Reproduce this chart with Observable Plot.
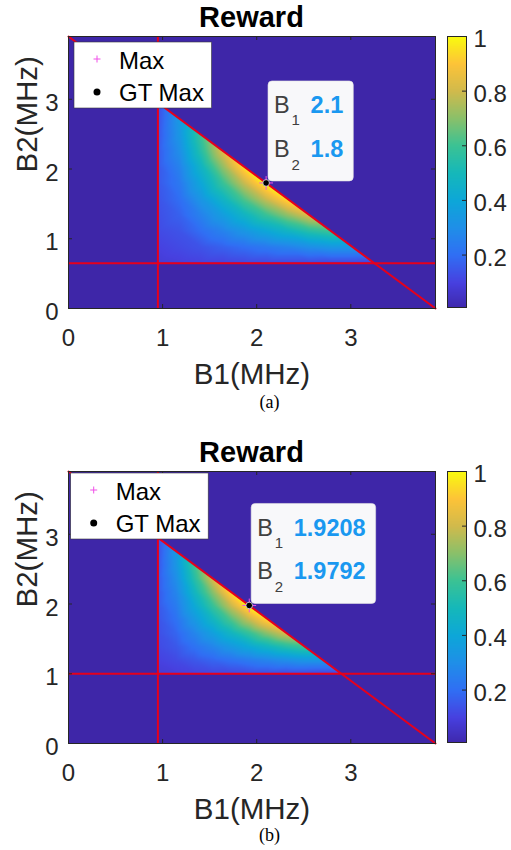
<!DOCTYPE html>
<html><head><meta charset="utf-8">
<script src="https://cdn.jsdelivr.net/npm/d3@7"></script>
<script src="https://cdn.jsdelivr.net/npm/@observablehq/plot@0.6"></script>
<style>
body{margin:0;background:#fff;}
#page{position:relative;width:511px;height:850px;overflow:hidden;font-family:"Liberation Sans",Arial,Helvetica,sans-serif;}
#page svg{position:absolute;}
</style></head><body><div id="page"></div>
<script>
// ---------------- data ----------------
const sumLimit = 3.9;                 // B1 + B2 constraint (diagonal)
const b1Min = [0.95, 0.95];           // vertical constraint line, panels a / b
const b2Min = [0.65, 1.0];            // horizontal constraint line, panels a / b
const gtMaxB1 = [2.1, 1.9208];
const gtMaxB2 = [1.8, 1.9792];
const estMaxB1 = [2.1, 1.9208];
const estMaxB2 = [1.8, 1.9792];
const xTicks = [0, 1, 2, 3];
const yTicks = [0, 1, 2, 3];
const cbTicks = [0.2, 0.4, 0.6, 0.8, 1];
const cbDomain = [0.008, 1];
const captions = ["(a)", "(b)"];
const legendLabels = ["Max", "GT Max"];

// sampled reward values (rows: B2 grid index, columns: B1 grid index)
const b1GridA = [0.95, 1.18, 1.41, 1.64, 1.87, 2.10, 2.33, 2.56, 2.79, 3.02, 3.25];
const b2GridA = [0.65, 0.88, 1.11, 1.34, 1.57, 1.80, 2.03, 2.26, 2.49, 2.72, 2.95];
const rewardA = [
  [0.08, 0.09, 0.10, 0.10, 0.11, 0.11, 0.11, 0.11, 0.10, 0.10, 0.09],
  [0.10, 0.12, 0.14, 0.17, 0.20, 0.23, 0.26, 0.30, 0.33, 0.33],
  [0.12, 0.14, 0.20, 0.26, 0.33, 0.40, 0.47, 0.55, 0.60],
  [0.13, 0.17, 0.26, 0.36, 0.47, 0.59, 0.71, 0.83],
  [0.14, 0.20, 0.33, 0.47, 0.63, 0.79, 0.96],
  [0.15, 0.23, 0.40, 0.59, 0.79, 1.00],
  [0.15, 0.26, 0.47, 0.71, 0.96],
  [0.15, 0.30, 0.55, 0.83],
  [0.14, 0.33, 0.60],
  [0.13, 0.34],
  [0.12]
];
const b1GridB = [0.95, 1.145, 1.34, 1.535, 1.73, 1.925, 2.12, 2.315, 2.51, 2.705, 2.90];
const b2GridB = [1.00, 1.195, 1.39, 1.585, 1.78, 1.975, 2.17, 2.365, 2.56, 2.755, 2.95];
const rewardB = [
  [0.08, 0.09, 0.10, 0.11, 0.11, 0.12, 0.12, 0.11, 0.11, 0.10, 0.10],
  [0.10, 0.12, 0.15, 0.18, 0.21, 0.24, 0.27, 0.30, 0.33, 0.33],
  [0.12, 0.15, 0.21, 0.27, 0.34, 0.41, 0.48, 0.55, 0.60],
  [0.13, 0.18, 0.27, 0.37, 0.48, 0.59, 0.71, 0.82],
  [0.14, 0.21, 0.34, 0.48, 0.63, 0.79, 0.95],
  [0.15, 0.24, 0.41, 0.59, 0.79, 1.00],
  [0.15, 0.27, 0.48, 0.70, 0.95],
  [0.15, 0.30, 0.55, 0.82],
  [0.14, 0.33, 0.60],
  [0.13, 0.34],
  [0.12]
];

// ---------------- styles ----------------
const FONT = '"Liberation Sans", Arial, Helvetica, sans-serif';
const parulaStops = [0, 0.1, 0.2, 0.3, 0.4, 0.5, 0.6, 0.7, 0.8, 0.9, 1];
const parulaColors = ["#3e26a8", "#4741e0", "#306ff4", "#1f8fe8", "#0da7d8", "#15b8ba",
                      "#3bc294", "#8ac06a", "#d1ba4c", "#fdc338", "#f9fb0e"];
const RED = "#e6001c";
const AX = "#262626";
const BG = parulaColors[0];
const colorScale = {type: "linear", domain: parulaStops, range: parulaColors, clamp: true};

const panelTop = [0, 435];
const legendPos = [[74, 42], [70.7, 38]];
const M = {left: 68, right: 5, top: 36, bottom: 92, width: 440, height: 400};
const FW = M.width - M.left - M.right, FH = M.height - M.top - M.bottom;

const page = document.getElementById("page");
const grids = [[b1GridA, b2GridA, rewardA], [b1GridB, b2GridB, rewardB]];

const overlay = d3.create("svg").attr("width", 511).attr("height", 850)
  .style("left", "0px").style("top", "0px").style("pointer-events", "none")
  .attr("font-family", FONT);

const tips = [];
for (let k = 0; k < 2; k++) {
  const [g1, g2, rows] = grids[k];
  const pts = [];
  rows.forEach((row, j) => row.forEach((v, i) => pts.push({b1: g1[i], b2: g2[j], v})));
  const diag = [{b1: 0, b2: sumLimit}, {b1: sumLimit, b2: 0}];
  const top = panelTop[k];

  const main = Plot.plot({
    width: M.width, height: M.height,
    marginLeft: M.left, marginRight: M.right, marginTop: M.top, marginBottom: M.bottom,
    x: {domain: [0, sumLimit], axis: null},
    y: {domain: [0, sumLimit], axis: null},
    color: colorScale,
    style: {fontFamily: FONT, color: AX, background: "transparent", overflow: "visible"},
    marks: [
      Plot.raster(pts, {x: "b1", y: "b2", fill: "v", interpolate: "barycentric",
        x1: 0, x2: sumLimit, y1: 0, y2: sumLimit}),
      Plot.rect([{a: 0, b: b1Min[k], c: 0, d: sumLimit}], {x1: "a", x2: "b", y1: "c", y2: "d", fill: BG}),
      Plot.rect([{a: 0, b: sumLimit, c: 0, d: b2Min[k]}], {x1: "a", x2: "b", y1: "c", y2: "d", fill: BG}),
      Plot.areaY(diag, {x: "b1", y1: "b2", y2: () => sumLimit, fill: BG}),
      Plot.ruleX([b1Min[k]], {stroke: RED, strokeWidth: 2}),
      Plot.ruleY([b2Min[k]], {stroke: RED, strokeWidth: 2}),
      Plot.line(diag, {x: "b1", y: "b2", stroke: RED, strokeWidth: 2}),
      Plot.ruleX(xTicks, {insetTop: FH - 4, stroke: AX}),
      Plot.ruleX(xTicks, {insetBottom: FH - 4, stroke: AX}),
      Plot.ruleY(yTicks, {insetRight: FW - 4, stroke: AX}),
      Plot.ruleY(yTicks, {insetLeft: FW - 4, stroke: AX}),
      Plot.frame({stroke: AX, strokeWidth: 1}),
      Plot.dot([{b1: estMaxB1[k], b2: estMaxB2[k]}], {x: "b1", y: "b2", symbol: "plus", r: 4.5, stroke: "#f050e8", strokeWidth: 1}),
      Plot.dot([{b1: gtMaxB1[k], b2: gtMaxB2[k]}], {x: "b1", y: "b2", r: 3.3, fill: "#000", stroke: "#e6e6e6", strokeWidth: 0.8}),
      Plot.axisX(xTicks, {anchor: "bottom", tickSize: 0, tickPadding: 20, fontSize: 24, label: null, fill: AX,
        tickFormat: d => String(d)}),
      Plot.axisY(yTicks, {anchor: "left", tickSize: 0, tickPadding: 10, fontSize: 24, dy: 4, label: null, fill: AX,
        tickFormat: d => String(d)}),
      Plot.text(["B1(MHz)"], {text: d => d, frameAnchor: "bottom", lineAnchor: "bottom", dy: 75, fontSize: 29.5, fill: AX}),
      Plot.text(["B2(MHz)"], {text: d => d, frameAnchor: "left", lineAnchor: "bottom", rotate: -90, dx: -32, fontSize: 29.5, fill: AX})
    ]
  });
  main.style.left = "0px";
  main.style.top = top + "px";
  page.appendChild(main);

  const cb = Plot.plot({
    width: 60, height: 320, marginLeft: 0, marginRight: 41, marginTop: 36, marginBottom: 13,
    x: {domain: [0, 1], axis: null},
    y: {domain: cbDomain, axis: null},
    color: colorScale,
    style: {fontFamily: FONT, color: AX, background: "transparent", overflow: "visible"},
    marks: [
      Plot.raster({fill: (x, y) => y, x1: 0, x2: 1, y1: cbDomain[0], y2: cbDomain[1], width: 1, height: 271}),
      Plot.ruleY(cbTicks, {insetLeft: 15, stroke: AX}),
      Plot.frame({stroke: AX, strokeWidth: 1}),
      Plot.axisY(cbTicks, {anchor: "right", tickSize: 0, tickPadding: 7, fontSize: 24, dy: 3,
        tickFormat: d => String(d), label: null, fill: AX})
    ]
  });
  cb.style.left = "447px";
  cb.style.top = top + "px";
  page.appendChild(cb);

  // title
  overlay.append("text").attr("x", M.left + FW / 2).attr("y", top + 26.5)
    .attr("text-anchor", "middle").attr("font-weight", "bold").attr("font-size", 29)
    .attr("fill", "#000").text("Reward");
  // caption
  overlay.append("text").attr("x", 269.5).attr("y", top + 407.5 - (k ? 2 : 0))
    .attr("text-anchor", "middle").attr("font-family", '"Liberation Serif", "Times New Roman", serif')
    .attr("font-size", 18).attr("fill", "#000").text(captions[k]);

  // legend
  const [lx, ly] = legendPos[k];
  const lg = overlay.append("g").attr("transform", `translate(${lx},${top + ly})`);
  lg.append("rect").attr("width", 137.5).attr("height", 66).attr("fill", "#fff")
    .attr("stroke", "#3a3a3a").attr("stroke-width", 0.6);
  lg.append("path").attr("d", "M19.5,17H26.5M23,13.5V20.5").attr("stroke", "#f050e8").attr("stroke-width", 1);
  lg.append("text").attr("x", 45).attr("y", 27).attr("font-size", 24).attr("fill", "#000").text(legendLabels[0]);
  lg.append("circle").attr("cx", 23).attr("cy", 50).attr("r", 3.5).attr("fill", "#000");
  lg.append("text").attr("x", 45).attr("y", 58.5).attr("font-size", 24).attr("fill", "#000").text(legendLabels[1]);

  // data tip
  const px = main.scale("x").apply(gtMaxB1[k]);
  const py = main.scale("y").apply(gtMaxB2[k]) + top;
  const tg = overlay.append("g");
  const tipRect = tg.append("rect").attr("x", px + 2.4).attr("y", py - 101.5).attr("height", 100)
    .attr("rx", 4).attr("fill", "#f8f8fa").attr("stroke", "#e2e2e2").attr("stroke-width", 0.6);
  const tipRows = [["1", String(gtMaxB1[k]), -69, 12], ["2", String(gtMaxB2[k]), -25.8, 13]];
  const valNodes = [];
  for (const [sub, val, dy, sdy] of tipRows) {
    tg.append("text").attr("x", px + 8.5).attr("y", py + dy).attr("font-size", 23.5).attr("fill", "#404040").text("B");
    tg.append("text").attr("x", px + 26).attr("y", py + dy + sdy).attr("font-size", 15).attr("fill", "#404040").text(sub);
    valNodes.push(tg.append("text").attr("x", px + 45).attr("y", py + dy).attr("font-size", 23.5)
      .attr("font-weight", "bold").attr("fill", "#1a98f0").text(val));
  }
  tips.push({px, rect: tipRect, vals: valNodes});
}

page.appendChild(overlay.node());
// size data tips to their values
for (const t of tips) {
  const len = Math.max(...t.vals.map(s => s.node().getComputedTextLength()));
  t.rect.attr("width", (t.px + 45 + len + 10) - (t.px + 2.4));
}
</script>
</body></html>
